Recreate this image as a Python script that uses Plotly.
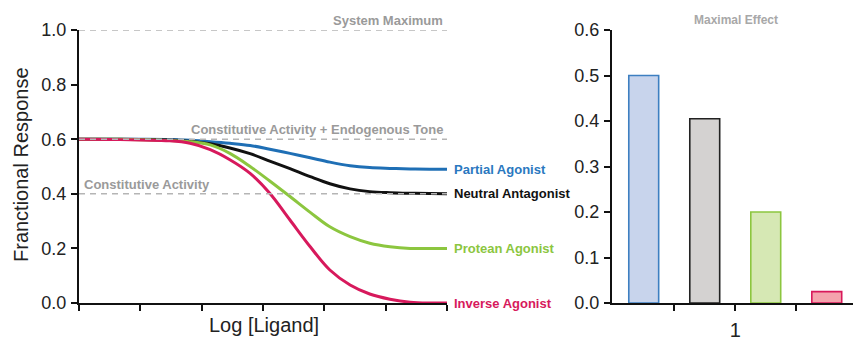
import plotly.graph_objects as go

# ---- data ----
log_ligand = [0, 0.5, 1.0, 1.48, 1.81, 2.14, 2.46, 2.79, 3.11, 3.44, 3.77, 4.09, 4.42, 4.74, 5.07, 5.40, 5.72, 6.0]
partial_agonist = [0.6, 0.6, 0.6, 0.599, 0.596, 0.591, 0.585, 0.577, 0.563, 0.548, 0.532, 0.516, 0.503, 0.496, 0.493, 0.491, 0.49, 0.49]
neutral_antagonist = [0.6, 0.6, 0.599, 0.597, 0.592, 0.583, 0.568, 0.547, 0.52, 0.492, 0.463, 0.437, 0.418, 0.408, 0.404, 0.402, 0.401, 0.4]
protean_agonist = [0.6, 0.6, 0.598, 0.595, 0.591, 0.579, 0.548, 0.50, 0.447, 0.39, 0.332, 0.279, 0.243, 0.219, 0.206, 0.2, 0.2, 0.2]
inverse_agonist = [0.6, 0.599, 0.597, 0.594, 0.585, 0.562, 0.525, 0.475, 0.402, 0.304, 0.206, 0.121, 0.066, 0.033, 0.014, 0.003, 0.0, 0.0]

series_names = ["Partial Agonist", "Neutral Antagonist", "Protean Agonist", "Inverse Agonist"]
series_values = [partial_agonist, neutral_antagonist, protean_agonist, inverse_agonist]
line_colors = ["#1f6fb5", "#111111", "#8cc63f", "#d7195c"]
label_colors = ["#2a78c0", "#111111", "#8cc63f", "#d7195c"]

reference_levels = [1.0, 0.6, 0.4]
reference_labels = ["System Maximum", "Constitutive Activity + Endogenous Tone", "Constitutive Activity"]

bar_positions = [0, 1, 2, 3]
maximal_effect = [0.5, 0.405, 0.2, 0.025]
bar_fills = ["#c8d4ec", "#d4d2d1", "#d6e8b4", "#f4a3ad"]
bar_lines = ["#3d7fc1", "#222222", "#8cc63f", "#d8195b"]

W, H = 853, 340
def px_x(p): return p / W
def px_y(p): return 1 - p / H

fig = go.Figure()

for name, vals, col in zip(series_names, series_values, line_colors):
    fig.add_trace(go.Scatter(x=log_ligand, y=vals, mode="lines", name=name,
                             line=dict(color=col, width=3, shape="spline", smoothing=1.0),
                             xaxis="x", yaxis="y", showlegend=False, hoverinfo="skip"))

for lvl in reference_levels:
    fig.add_trace(go.Scatter(x=[log_ligand[0], log_ligand[-1]], y=[lvl, lvl], mode="lines",
                             line=dict(color="#b5b5b5", width=1.5, dash="6px,5px"),
                             xaxis="x", yaxis="y", showlegend=False, hoverinfo="skip"))

fig.add_trace(go.Bar(x=bar_positions, y=maximal_effect, width=0.49,
                     marker=dict(color=bar_fills, line=dict(color=bar_lines, width=1.6)),
                     xaxis="x2", yaxis="y2", showlegend=False, hoverinfo="skip"))

narrow = "Liberation Sans Narrow, Arial Narrow, Liberation Sans, Arial"
base = "Liberation Sans, Arial, Helvetica"

annotations = []
ref_anchor = [("right", 6, -2), ("right", 6, -2), ("left", 0, 3)]
for lvl, lab, (anc, xv, sh) in zip(reference_levels, reference_labels, ref_anchor):
    annotations.append(dict(x=xv, y=lvl, xref="x", yref="y", text="<b>" + lab + "</b>",
                            xanchor=anc, yanchor="bottom", showarrow=False, xshift=sh, yshift=0,
                            font=dict(family=narrow, size=13, color="#9a9a9a")))
for name, vals, col in zip(series_names, series_values, label_colors):
    annotations.append(dict(x=6, y=vals[-1], xref="x", yref="y", text="<b>" + name + "</b>",
                            xanchor="left", yanchor="middle", showarrow=False, xshift=5,
                            font=dict(family=narrow, size=13, color=col)))
annotations.append(dict(x=px_x(264), y=px_y(325), xref="paper", yref="paper", text="Log [Ligand]",
                        xanchor="center", yanchor="middle", showarrow=False,
                        font=dict(family=base, size=20, color="#222")))
annotations.append(dict(x=px_x(21), y=px_y(165), xref="paper", yref="paper", text="Franctional Response",
                        textangle=-90, xanchor="center", yanchor="middle", showarrow=False,
                        font=dict(family=base, size=20, color="#222")))
annotations.append(dict(x=px_x(736), y=px_y(20), xref="paper", yref="paper", text="<b>Maximal Effect</b>",
                        xanchor="center", yanchor="middle", showarrow=False,
                        font=dict(family=narrow, size=12, color="#a8a8a8")))

axis_common = dict(showgrid=False, zeroline=False, showline=True, linecolor="#111", linewidth=2,
                   ticks="outside", ticklen=6, tickwidth=2, tickcolor="#111", automargin=False)

fig.update_layout(
    width=W, height=H, margin=dict(l=0, r=0, t=0, b=0),
    paper_bgcolor="white", plot_bgcolor="white",
    xaxis=dict(domain=[px_x(79), px_x(447)], range=[0, 6], tickvals=[0, 1, 2, 3, 4, 5, 6],
               showticklabels=False, anchor="y", **axis_common),
    yaxis=dict(domain=[px_y(303), px_y(30)], range=[0, 1], tickvals=[0, 0.2, 0.4, 0.6, 0.8, 1.0],
               tickformat=".1f", anchor="x", ticklabelstandoff=1,
               tickfont=dict(family=base, size=18, color="#222"), **axis_common),
    xaxis2=dict(domain=[px_x(612), 1.0], range=[-0.52, 3.43], tickvals=[0.5, 1.5, 2.5],
                ticktext=["", "1", ""], anchor="y2", ticklabelstandoff=2,
                tickfont=dict(family=base, size=20, color="#222"), **axis_common),
    yaxis2=dict(domain=[px_y(303), px_y(30)], range=[0, 0.6], tickvals=[0, 0.1, 0.2, 0.3, 0.4, 0.5, 0.6],
                tickformat=".1f", anchor="x2", ticklabelstandoff=1,
                tickfont=dict(family=base, size=18, color="#222"), **axis_common),
    annotations=annotations,
)

fig.write_html("out.html", config={"displayModeBar": False},
               post_script="document.body.style.margin='0px';document.body.style.overflow='hidden';")
